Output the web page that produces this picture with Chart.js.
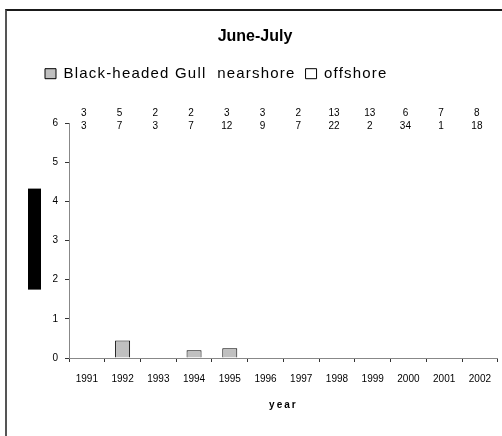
<!DOCTYPE html>
<html>
<head>
<meta charset="utf-8">
<script src="https://cdn.jsdelivr.net/npm/chart.js@4"></script>
<style>
  html, body { margin: 0; padding: 0; background: #fff; overflow: hidden; }
  #wrap { position: relative; width: 502px; height: 436px; }
  #wrap canvas { position: absolute; left: 0; top: 0; }
  #frame { position: absolute; left: 5px; top: 9px; width: 600px; height: 600px;
           border-top: 2px solid #1a1a1a; border-left: 2px solid #555; pointer-events: none; }
</style>
</head>
<body>
<div id="wrap">
  <canvas id="chart" width="502" height="436"></canvas>
  <div id="frame"></div>
</div>
<script>
// values
const years = ['1991', '1992', '1993', '1994', '1995', '1996', '1997', '1998', '1999', '2000', '2001', '2002'];
const nearshore = [0, 0.45, 0, 0.2, 0.25, 0, 0, 0, 0, 0, 0, 0];
const offshore = [0, 0, 0, 0, 0, 0, 0, 0, 0, 0, 0, 0];
// sample counts printed above the plot
const nearshoreCounts = [3, 5, 2, 2, 3, 3, 2, 13, 13, 6, 7, 8];
const offshoreCounts = [3, 7, 3, 7, 12, 9, 7, 22, 2, 34, 1, 18];
const yTicks = [0, 1, 2, 3, 4, 5, 6];

const FONT = "Arial, 'Liberation Sans', sans-serif";

// run fn with wider letter spacing (the old excel look)
function spaced(ctx, px, fn) {
  const old = ctx.letterSpacing;
  ctx.letterSpacing = px;
  fn();
  ctx.letterSpacing = old || '0px';
}

// extra space under the legend, legend shifted left, counts + y title box
const extras = {
  id: 'extras',
  beforeLayout(chart) {
    const lg = chart.legend;
    if (lg && !lg._patched) {
      const fit = lg.fit, draw = lg.draw;
      lg.fit = function() {
        const self = this;
        spaced(this.ctx, '1.2px', function() { fit.call(self); });
        this.height += 32;
      };
      lg.draw = function() {
        const self = this;
        spaced(this.ctx, '1.2px', function() { draw.call(self); });
      };
      lg._patched = true;
    }
    const xs = chart.scales.x;
    if (xs && !xs._patched) {
      const drawTitle = xs.drawTitle;
      xs.drawTitle = function() {
        const self = this;
        spaced(this.ctx, '2px', function() { drawTitle.call(self); });
      };
      xs._patched = true;
    }
  },
  afterLayout(chart) {
    chart.legend.left = 35;
    chart.titleBlock.left = 8;
  },
  afterDatasetsDraw(chart) {
    const ctx = chart.ctx;
    const x = chart.scales.x;
    const area = chart.chartArea;
    ctx.save();
    ctx.font = '10px ' + FONT;
    ctx.fillStyle = '#000';
    ctx.textAlign = 'center';
    ctx.textBaseline = 'middle';
    nearshoreCounts.forEach(function(v, i) {
      const px = x.getPixelForValue(i) - 3;
      ctx.fillText(String(v), px, area.top - 10);
      ctx.fillText(String(offshoreCounts[i]), px, area.top + 3);
    });
    // the y axis title shows up as a solid black block
    const mid = (area.top + area.bottom) / 2;
    ctx.fillRect(28, mid - 52, 13, 101);
    ctx.restore();
  }
};

new Chart(document.getElementById('chart'), {
  type: 'bar',
  data: {
    labels: years,
    datasets: [{
      label: 'Black-headed Gull  nearshore',
      data: nearshore,
      backgroundColor: '#c0c0c0',
      borderColor: '#000',
      borderWidth: 1,
      barPercentage: 0.42,
      categoryPercentage: 1.0
    }, {
      label: 'offshore',
      data: offshore,
      backgroundColor: '#fff',
      borderColor: '#000',
      borderWidth: 1,
      barPercentage: 0.42,
      categoryPercentage: 1.0
    }]
  },
  options: {
    responsive: false,
    animation: false,
    layout: { padding: 0 },
    plugins: {
      title: {
        display: true,
        text: 'June-July',
        color: '#000',
        font: { family: FONT, size: 16, weight: 'bold' },
        padding: { top: 27, bottom: 10 }
      },
      legend: {
        position: 'top',
        align: 'start',
        labels: {
          boxWidth: 11,
          boxHeight: 10,
          padding: 10,
          color: '#000',
          font: { family: FONT, size: 15 }
        }
      },
      tooltip: { enabled: false }
    },
    scales: {
      x: {
        stacked: true,
        offset: true,
        afterFit: function(s) { s.height = 78; },
        grid: { display: true, offset: true, drawOnChartArea: false, tickLength: 4, color: '#333' },
        border: { display: true, color: '#888' },
        ticks: { color: '#000', padding: 11, maxRotation: 0, autoSkip: false, font: { family: FONT, size: 10 } },
        title: {
          display: true,
          text: 'year',
          color: '#000',
          font: { family: FONT, size: 10, weight: 'bold' },
          padding: { top: 25, bottom: 25 }
        }
      },
      y: {
        stacked: true,
        min: yTicks[0],
        max: yTicks[yTicks.length - 1],
        afterFit: function(s) { s.width = 69; },
        afterBuildTicks: function(s) { s.ticks = yTicks.map(function(v) { return { value: v }; }); },
        grid: { display: true, drawOnChartArea: false, tickLength: 4, color: '#333' },
        border: { display: true, color: '#888' },
        ticks: { color: '#000', padding: 7, font: { family: FONT, size: 10 } }
      }
    }
  },
  plugins: [extras]
});
</script>
</body>
</html>
